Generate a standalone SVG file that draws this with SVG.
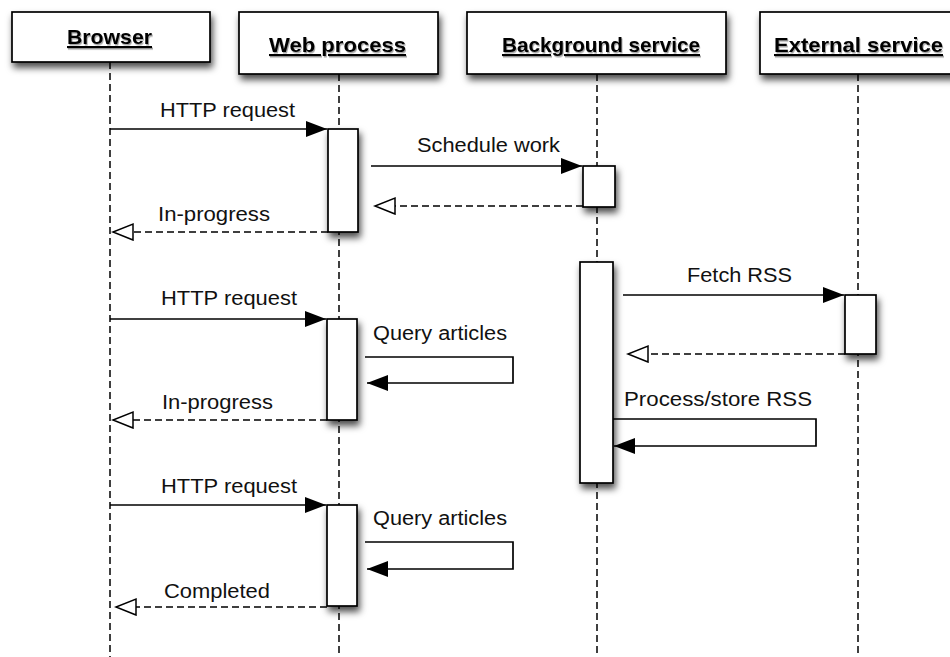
<svg xmlns="http://www.w3.org/2000/svg" width="950" height="657" viewBox="0 0 950 657">
  <style>
    .head { fill: #fff; stroke: #000; stroke-width: 1.7; filter: url(#shadow); }
    .act { fill: #fff; stroke: #000; stroke-width: 1.7; filter: url(#shadow); }
    .life { stroke: #000; stroke-width: 1.5; stroke-dasharray: 7 4; fill: none; }
    .msg { stroke: #000; stroke-width: 1.7; fill: none; marker-end: url(#filled); }
    .ret { stroke: #000; stroke-width: 1.7; fill: none; stroke-dasharray: 7 4; marker-end: url(#open); }
    .title { font-family: "Liberation Sans", Arial, sans-serif; font-weight: bold; font-size: 21px; text-decoration: underline; fill: #000; filter: url(#tshadow); }
    .lbl { font-family: "Liberation Sans", Arial, sans-serif; font-size: 20px; fill: #111; }
  </style>
  <defs>
    <filter id="shadow" x="-40%" y="-40%" width="180%" height="180%">
      <feDropShadow dx="2" dy="5" stdDeviation="3.5" flood-color="#000" flood-opacity="0.7"/>
    </filter>
    <filter id="tshadow" x="-10%" y="-20%" width="120%" height="150%">
      <feDropShadow dx="1" dy="1.5" stdDeviation="0.6" flood-color="#000" flood-opacity="0.35"/>
    </filter>
    <marker id="filled" markerUnits="userSpaceOnUse" markerWidth="23" markerHeight="18" refX="21" refY="8" orient="auto">
      <path d="M0,0 L21,8 L0,16 z" fill="#000"/>
    </marker>
    <marker id="open" markerUnits="userSpaceOnUse" markerWidth="24" markerHeight="20" refX="21" refY="9" orient="auto">
      <path d="M1,1 L21,9 L1,17 z" fill="#fff" stroke="#000" stroke-width="1.5"/>
    </marker>
  </defs>

  <rect width="950" height="657" fill="#fff"/>

  <!-- lifelines -->
  <g id="lifelines">
    <line class="life" x1="110" y1="62" x2="110" y2="657"/>
    <line class="life" x1="339" y1="74" x2="339" y2="657"/>
    <line class="life" x1="597" y1="74" x2="597" y2="657"/>
    <line class="life" x1="858" y1="74" x2="858" y2="657"/>
  </g>

  <!-- participants -->
  <g id="browser">
    <rect class="head" x="12" y="12" width="198" height="50"/>
    <text class="title" x="67" y="44" textLength="85" lengthAdjust="spacingAndGlyphs">Browser</text>
  </g>
  <g id="web-process">
    <rect class="head" x="239" y="12" width="199" height="62"/>
    <text class="title" x="269" y="52" textLength="137" lengthAdjust="spacingAndGlyphs">Web process</text>
  </g>
  <g id="background-service">
    <rect class="head" x="467" y="12" width="259" height="62"/>
    <text class="title" x="502" y="52" textLength="198" lengthAdjust="spacingAndGlyphs">Background service</text>
  </g>
  <g id="external-service">
    <rect class="head" x="760" y="12" width="200" height="62"/>
    <text class="title" x="774" y="52" textLength="169" lengthAdjust="spacingAndGlyphs">External service</text>
  </g>

  <!-- activation bars -->
  <g id="web-act-1"><rect class="act" x="328" y="129" width="30" height="103"/></g>
  <g id="bg-act-1"><rect class="act" x="583" y="166" width="32" height="41"/></g>
  <g id="bg-act-2"><rect class="act" x="580" y="262" width="33" height="221"/></g>
  <g id="ext-act-1"><rect class="act" x="845" y="295" width="31" height="59"/></g>
  <g id="web-act-2"><rect class="act" x="327" y="319" width="30" height="101"/></g>
  <g id="web-act-3"><rect class="act" x="327" y="505" width="30" height="101"/></g>

  <!-- messages -->
  <g id="connectors">
    <line class="msg" x1="110" y1="129" x2="327" y2="129"/>
    <line class="msg" x1="371" y1="166" x2="582" y2="166"/>
    <line class="ret" x1="583" y1="206" x2="375" y2="206"/>
    <line class="ret" x1="328" y1="232" x2="113" y2="232"/>

    <line class="msg" x1="623" y1="295" x2="844" y2="295"/>
    <line class="ret" x1="845" y1="354" x2="628" y2="354"/>
    <path class="msg" d="M613,419 H816 V446 H614"/>

    <line class="msg" x1="110" y1="319" x2="326" y2="319"/>
    <path class="msg" d="M365,357 H513 V383 H367"/>
    <line class="ret" x1="327" y1="420" x2="113" y2="420"/>

    <line class="msg" x1="110" y1="505" x2="326" y2="505"/>
    <path class="msg" d="M365,542 H513 V569 H367"/>
    <line class="ret" x1="327" y1="607" x2="116" y2="607"/>
  </g>

  <!-- message labels -->
  <g id="labels">
    <text class="lbl" x="160" y="117" textLength="135" lengthAdjust="spacingAndGlyphs">HTTP request</text>
    <text class="lbl" x="417" y="152" textLength="143" lengthAdjust="spacingAndGlyphs">Schedule work</text>
    <text class="lbl" x="158" y="221" textLength="112" lengthAdjust="spacingAndGlyphs">In-progress</text>
    <text class="lbl" x="687" y="282" textLength="105" lengthAdjust="spacingAndGlyphs">Fetch RSS</text>
    <text class="lbl" x="161" y="305" textLength="136" lengthAdjust="spacingAndGlyphs">HTTP request</text>
    <text class="lbl" x="373" y="340" textLength="134" lengthAdjust="spacingAndGlyphs">Query articles</text>
    <text class="lbl" x="624" y="406" textLength="188" lengthAdjust="spacingAndGlyphs">Process/store RSS</text>
    <text class="lbl" x="162" y="409" textLength="111" lengthAdjust="spacingAndGlyphs">In-progress</text>
    <text class="lbl" x="161" y="493" textLength="136" lengthAdjust="spacingAndGlyphs">HTTP request</text>
    <text class="lbl" x="373" y="525" textLength="134" lengthAdjust="spacingAndGlyphs">Query articles</text>
    <text class="lbl" x="164" y="598" textLength="106" lengthAdjust="spacingAndGlyphs">Completed</text>
  </g>
</svg>
